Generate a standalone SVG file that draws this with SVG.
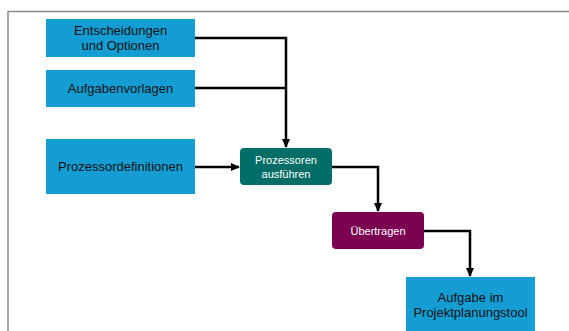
<svg xmlns="http://www.w3.org/2000/svg" width="569" height="331" viewBox="0 0 569 331">
<defs>
<style>
.frame{fill:none;stroke:#8a8a8a;stroke-width:1.5}
.blue{fill:#149dd3}
.teal{fill:#006e66}
.plum{fill:#7b0052}
.tb{font-family:"Liberation Sans",Arial,sans-serif;font-size:13px;fill:#111;text-anchor:middle}
.tw{font-family:"Liberation Sans",Arial,sans-serif;font-size:11px;fill:#fff;text-anchor:middle}
.c{fill:none;stroke:#000;stroke-width:2.5}
</style>
<marker id="ah" markerWidth="9" markerHeight="9" refX="8" refY="4.5" orient="auto" markerUnits="userSpaceOnUse">
<path d="M0,0.5 L9,4.5 L0,8.5 Z" fill="#000"/>
</marker>
</defs>
<rect width="569" height="331" fill="#fff"/>
<path class="frame" d="M8,331 V11.5 H569"/>
<g id="connectors">
<path class="c" d="M195,38 H286 V147" marker-end="url(#ah)"/>
<path class="c" d="M195,88 H286"/>
<path class="c" d="M195,167 H239" marker-end="url(#ah)"/>
<path class="c" d="M332,167 H378 V211" marker-end="url(#ah)"/>
<path class="c" d="M424,231 H470 V276" marker-end="url(#ah)"/>
</g>
<g id="n1"><rect class="blue" x="46" y="19" width="149" height="38"/><text class="tb" x="120.5" y="35">Entscheidungen</text><text class="tb" x="120.5" y="50">und Optionen</text></g>
<g id="n2"><rect class="blue" x="46" y="70" width="149" height="37"/><text class="tb" x="120.5" y="93">Aufgabenvorlagen</text></g>
<g id="n3"><rect class="blue" x="46" y="139" width="149" height="55"/><text class="tb" x="120.5" y="171">Prozessordefinitionen</text></g>
<g id="n4"><rect class="teal" x="240" y="148" width="92" height="37" rx="4"/><text class="tw" x="286" y="164">Prozessoren</text><text class="tw" x="286" y="178">ausführen</text></g>
<g id="n5"><rect class="plum" x="332" y="212" width="92" height="37" rx="4"/><text class="tw" x="378" y="235">Übertragen</text></g>
<g id="n6"><rect class="blue" x="406" y="277" width="129" height="60"/><text class="tb" x="470.5" y="302">Aufgabe im</text><text class="tb" x="470.5" y="317">Projektplanungstool</text></g>
</svg>
